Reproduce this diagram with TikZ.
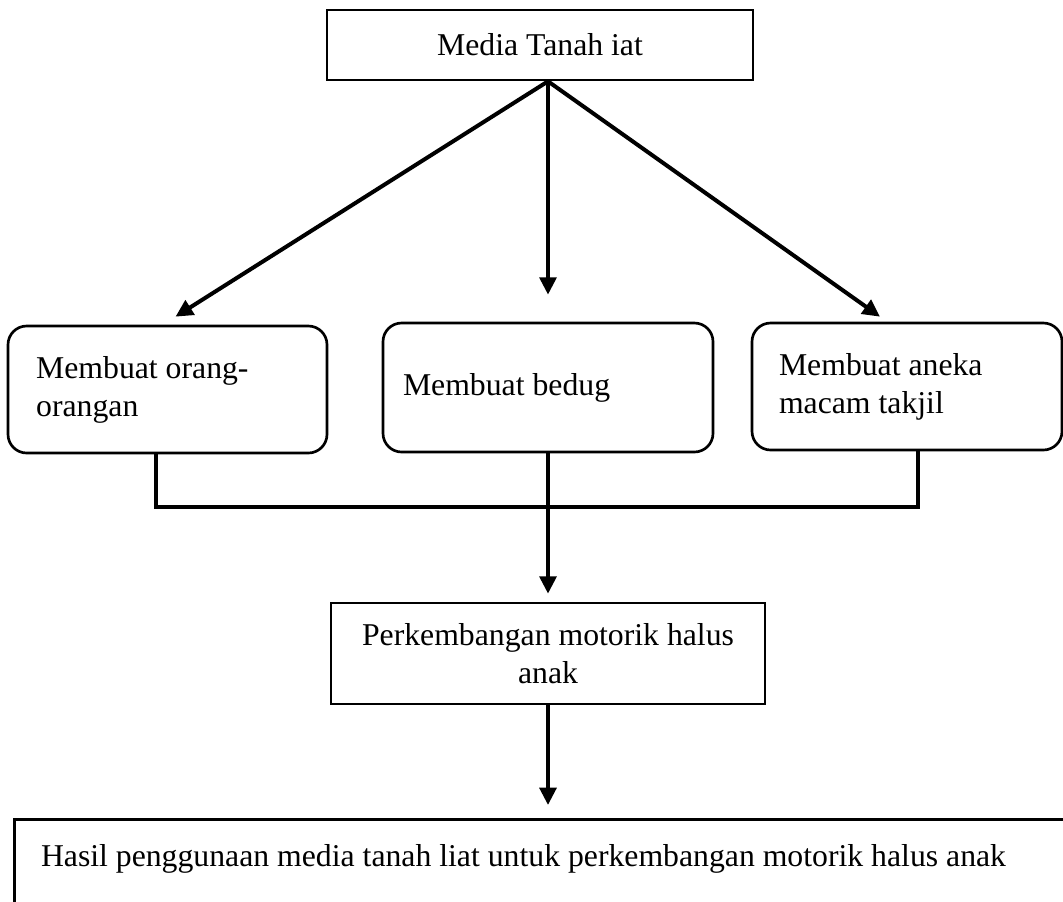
\documentclass[tikz,border=0pt]{standalone}
\usepackage{fontspec}
\setmainfont{Liberation Serif}
\usetikzlibrary{arrows.meta,calc}
\begin{document}
\begin{tikzpicture}[x=0.75pt,y=-0.75pt,
  font=\fontsize{23.8pt}{28.5pt}\selectfont,
  sqbox/.style={draw,line width=2pt,rectangle,inner sep=0pt,align=center},
  rbox/.style={draw,line width=2pt,rectangle,rounded corners=14pt,inner ysep=0pt,align=flush left},
  arr/.style={line width=3pt,-{Triangle[length=13pt,width=12.5pt]}},
  link/.style={line width=3pt}]
\clip (0,0) rectangle (1063,901);
\useasboundingbox (0,0) rectangle (1063,901);
\node[sqbox,minimum width=319.5pt,minimum height=52.5pt] (top) at (540,45) {Media Tanah iat};
\node[rbox,minimum width=239.25pt,minimum height=95.25pt,inner xsep=21pt,text width=197pt] (lbox) at (167.5,389.5) {Membuat orang-\\orangan};
\node[rbox,minimum width=247.5pt,minimum height=96.75pt,inner xsep=15pt,text width=217.5pt] (mid) at (548,387.5) {Membuat bedug};
\node[rbox,minimum width=232.5pt,minimum height=95.25pt,inner xsep=20.25pt,text width=192pt] (rbox) at (907,386.5) {Membuat aneka\\macam takjil};
\node[sqbox,minimum width=325.5pt,minimum height=75.75pt] (perk) at (548,653.5) {Perkembangan motorik halus\\anak};
\node[draw,line width=2pt,anchor=north west,inner xsep=20pt,inner ysep=0pt,text height=35pt,text depth=80pt,text width=800pt,align=flush left] (res) at (13,818) {Hasil penggunaan media tanah liat untuk perkembangan motorik halus anak};
\coordinate (o) at (top.south -| mid.north);
\draw[arr] (o) -- ($(lbox.north)+(8,-8)$);
\draw[arr] (o) -- ($(mid.north)+(0,-27)$);
\draw[arr] (o) -- ($(rbox.north)+(-27,-5)$);
\draw[link] ($(lbox.south)+(-12,0)$) -- ++(0,53) -| ($(rbox.south)+(11,0)$);
\draw[arr] (mid.south) -- ($(perk.north)+(0,-8)$);
\draw[arr] (perk.south) -- ($(res.north -| perk.south)+(0,-13)$);
\end{tikzpicture}
\end{document}
